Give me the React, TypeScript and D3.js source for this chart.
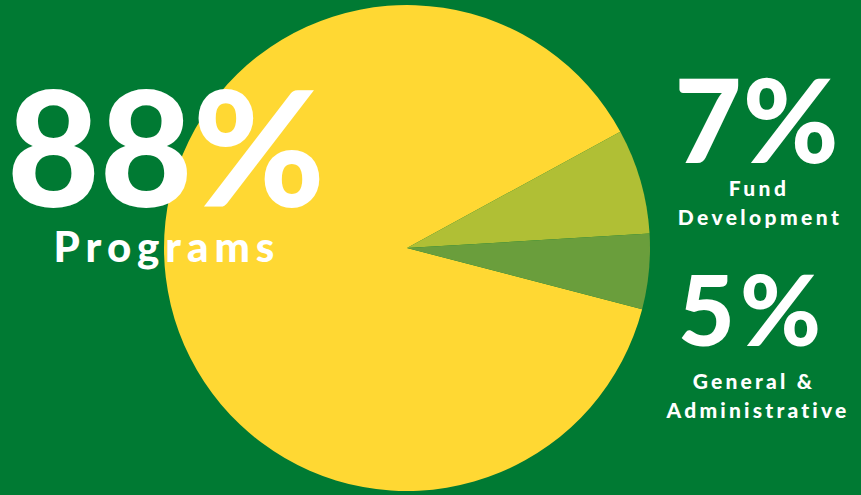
import React from "react";
import * as d3 from "d3";

const categories = ["Programs", "Fund Development", "General & Administrative"];
const values = [88, 7, 5];
const colors = ["#FFD833", "#B0BF35", "#6A9E3C"];

const W = 861;
const H = 495;

export default function App() {
  const cx = 407, cy = 248, r = 243;
  const start = (104.6 * Math.PI) / 180;
  const pie = d3
    .pie<number>()
    .sort(null)
    .value((d) => d)
    .startAngle(start)
    .endAngle(start + 2 * Math.PI);
  const arcs = pie(values);
  const arc = d3.arc<d3.PieArcDatum<number>>().innerRadius(0).outerRadius(r);

  const num = { fontFamily: "Lato, 'Open Sans', sans-serif", fontWeight: 900, fill: "#fff" } as const;
  const lab = { fontFamily: "Lato, 'Open Sans', sans-serif", fontWeight: 900, fill: "#fff" } as const;

  return (
    <svg width={W} height={H} style={{ position: "absolute", left: 0, top: 0 }}>
      <rect width={W} height={H} fill="#007A33" />
      <g transform={`translate(${cx},${cy})`}>
        {arcs.map((a, i) => (
          <path key={categories[i]} d={arc(a) || ""} fill={colors[i]} />
        ))}
      </g>
      <text x={166} y={207} textAnchor="middle" fontSize={160} style={num}>
        {values[0]}%
      </text>
      <text x={167} y={262} textAnchor="middle" fontSize={42} letterSpacing={6} style={lab}>
        {categories[0]}
      </text>

      <text x={757} y={163} textAnchor="middle" fontSize={116} letterSpacing={1} style={num}>
        {values[1]}%
      </text>
      <text x={759} y={196} textAnchor="middle" fontSize={21} letterSpacing={3.4} style={lab}>
        Fund
      </text>
      <text x={760} y={225} textAnchor="middle" fontSize={21} letterSpacing={3.4} style={lab}>
        Development
      </text>

      <text x={752} y={346} textAnchor="middle" fontSize={98} letterSpacing={5} style={num}>
        {values[2]}%
      </text>
      <text x={754} y={389} textAnchor="middle" fontSize={21} letterSpacing={3.2} style={lab}>
        General &amp;
      </text>
      <text x={758} y={418} textAnchor="middle" fontSize={21} letterSpacing={3.2} style={lab}>
        Administrative
      </text>
    </svg>
  );
}
